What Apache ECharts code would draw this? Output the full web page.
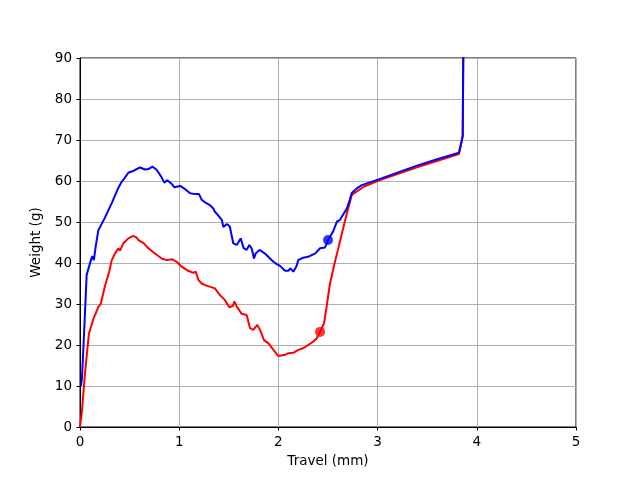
<!DOCTYPE html>
<html>
<head>
<meta charset="utf-8">
<script src="https://cdn.jsdelivr.net/npm/echarts@6/dist/echarts.min.js"></script>
<style>html,body{margin:0;padding:0;background:#fff}#c{width:640px;height:480px}</style>
</head>
<body>
<div id="c"></div>
<script>
var xTicks = [0, 1, 2, 3, 4, 5];
var yTicks = [0, 10, 20, 30, 40, 50, 60, 70, 80, 90];

var redCurve = [[0,0],[0.02,4],[0.05,13],[0.09,22.8],[0.134,26.3],[0.185,29.3],[0.21,30.1],[0.25,34.2],[0.295,38],[0.32,40.7],[0.353,42.3],[0.386,43.6],[0.403,43],[0.437,44.8],[0.487,46],[0.537,46.6],[0.571,46.2],[0.588,45.6],[0.638,44.9],[0.689,43.6],[0.756,42.3],[0.823,41.1],[0.874,40.7],[0.93,40.9],[0.975,40.3],[1.025,39.1],[1.09,38.1],[1.142,37.6],[1.166,37.9],[1.193,35.9],[1.227,35],[1.26,34.6],[1.277,34.4],[1.36,33.8],[1.41,32.2],[1.46,31],[1.505,29.2],[1.54,29.5],[1.556,30.6],[1.58,29.4],[1.63,27.6],[1.68,27.3],[1.714,24.1],[1.747,23.7],[1.787,24.9],[1.815,23.7],[1.855,21.2],[1.9,20.4],[1.95,18.8],[2.0,17.3],[2.067,17.6],[2.1,18],[2.15,18.1],[2.2,18.8],[2.25,19.2],[2.3,20],[2.35,20.8],[2.385,21.6],[2.42,23.2],[2.46,25.3],[2.487,29.5],[2.52,35],[2.57,40.3],[2.6,43.2],[2.64,47.2],[2.69,52.1],[2.74,56.6],[2.86,58.6],[3.01,60.1],[3.39,63.3],[3.82,66.6],[3.84,67],[3.85,70],[3.858,71],[3.865,95]];

var blueCurve = [[0.01,10],[0.02,12],[0.045,25],[0.067,37.1],[0.11,40.7],[0.124,41.7],[0.14,40.7],[0.158,44],[0.185,48],[0.25,51],[0.32,54.6],[0.386,58.3],[0.42,59.8],[0.45,60.7],[0.46,60.6],[0.487,62],[0.54,62.5],[0.605,63.3],[0.655,62.8],[0.69,62.9],[0.73,63.5],[0.77,62.8],[0.82,61],[0.85,59.6],[0.88,60.2],[0.92,59.4],[0.95,58.5],[1.01,58.8],[1.06,58],[1.11,57],[1.16,56.8],[1.2,56.8],[1.227,55.4],[1.26,54.8],[1.31,54.1],[1.344,53.3],[1.36,52.5],[1.39,51.7],[1.43,50.5],[1.445,48.8],[1.48,49.5],[1.51,48.9],[1.545,44.8],[1.58,44.4],[1.62,46],[1.65,43.6],[1.68,43.2],[1.707,44.4],[1.73,43.6],[1.754,41.1],[1.77,42.3],[1.81,43.2],[1.83,43.4],[1.865,42.3],[1.915,41.1],[1.95,40.3],[1.98,39.8],[2.016,39.3],[2.067,38.1],[2.1,38.1],[2.12,38.7],[2.15,37.9],[2.18,39.1],[2.2,40.7],[2.25,41.3],[2.3,41.5],[2.335,41.9],[2.37,42.3],[2.42,43.6],[2.47,43.8],[2.5,45.6],[2.55,47.6],[2.59,50.1],[2.62,50.5],[2.65,51.7],[2.69,53.3],[2.72,55.4],[2.74,57.1],[2.79,58.2],[2.84,59],[3.01,60.4],[3.39,63.7],[3.6,65.3],[3.82,66.9],[3.838,67.1],[3.85,70],[3.858,71],[3.865,95]];

var redMarker = [[2.42, 23.2]];
var blueMarker = [[2.5, 45.6]];

var FONT = 'DejaVu Sans';
var chart = echarts.init(document.getElementById('c'), null, {renderer: 'canvas'});
chart.setOption({
  animation: false,
  backgroundColor: '#ffffff',
  grid: {left: 80, right: 64, top: 58, bottom: 53, show: true, borderColor: '#000', borderWidth: 1, backgroundColor: 'transparent'},
  xAxis: {
    type: 'value', min: xTicks[0], max: xTicks[xTicks.length - 1], interval: 1,
    name: 'Travel (mm)', nameLocation: 'middle', nameGap: 27,
    nameTextStyle: {fontFamily: FONT, fontSize: 13.5, color: '#000'},
    axisLine: {show: true, onZero: false, lineStyle: {color: '#000', width: 1}},
    axisTick: {show: true, length: 3.5, lineStyle: {color: '#000'}},
    axisLabel: {margin: 8, fontFamily: FONT, fontSize: 13.5, color: '#000'},
    splitLine: {show: true, lineStyle: {color: '#b0b0b0', width: 1}}
  },
  yAxis: {
    type: 'value', min: yTicks[0], max: yTicks[yTicks.length - 1], interval: 10,
    name: 'Weight (g)', nameLocation: 'middle', nameGap: 32, nameRotate: 90,
    nameTextStyle: {fontFamily: FONT, fontSize: 13.5, color: '#000'},
    axisLine: {show: true, onZero: false, lineStyle: {color: '#000', width: 1}},
    axisTick: {show: true, length: 3.5, lineStyle: {color: '#000'}},
    axisLabel: {margin: 8, fontFamily: FONT, fontSize: 13.5, color: '#000'},
    splitLine: {show: true, lineStyle: {color: '#b0b0b0', width: 1}}
  },
  series: [
    {type: 'line', data: redCurve, showSymbol: false, clip: true, lineStyle: {color: '#ff0000', width: 2}, z: 2},
    {type: 'scatter', data: redMarker, symbol: 'circle', symbolSize: 10, itemStyle: {color: '#ff0000'}, z: 3},
    {type: 'line', data: blueCurve, showSymbol: false, clip: true, lineStyle: {color: '#0000ff', width: 2}, z: 4},
    {type: 'scatter', data: blueMarker, symbol: 'circle', symbolSize: 10, itemStyle: {color: '#0000ff'}, z: 5}
  ]
});
</script>
</body>
</html>
